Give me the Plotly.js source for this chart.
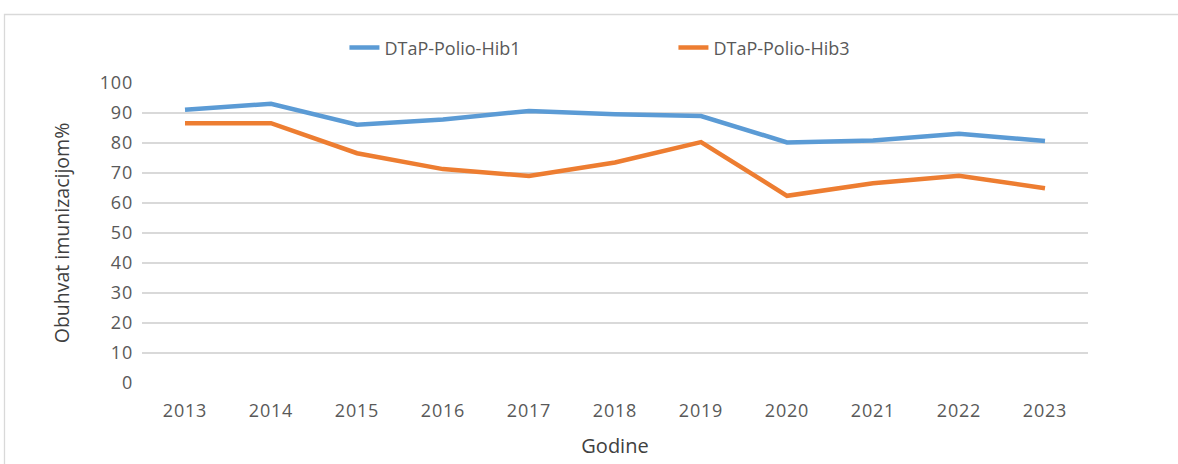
<!DOCTYPE html>
<html>
<head>
<meta charset="utf-8">
<script src="https://cdn.plot.ly/plotly-3.0.1.min.js"></script>
<style>
  html, body { margin: 0; padding: 0; background: #fff; }
  #chart { width: 1178px; height: 464px; }
  #chart .xtick text, #chart .ytick text { letter-spacing: 0.8px; }
</style>
</head>
<body>
<div id="chart"></div>
<script>
const years = ['2013','2014','2015','2016','2017','2018','2019','2020','2021','2022','2023'];
const hib1 = [91.1, 93.1, 86.1, 87.8, 90.7, 89.6, 89.0, 80.2, 80.8, 83.1, 80.7];
const hib3 = [86.6, 86.6, 76.6, 71.3, 69.0, 73.5, 80.3, 62.4, 66.6, 69.1, 64.9];
const seriesNames = ['DTaP-Polio-Hib1', 'DTaP-Polio-Hib3'];
const yTicks = [0, 10, 20, 30, 40, 50, 60, 70, 80, 90, 100];

const font = 'Open Sans, Liberation Sans, sans-serif';
const traces = [
  { x: years, y: hib1, name: seriesNames[0], type: 'scatter', mode: 'lines',
    line: { color: '#5B9BD5', width: 4.5 } },
  { x: years, y: hib3, name: seriesNames[1], type: 'scatter', mode: 'lines',
    line: { color: '#ED7D31', width: 4.5 } }
];

const layout = {
  width: 1178, height: 464,
  margin: { l: 142, r: 90, t: 83, b: 81 },
  paper_bgcolor: '#ffffff', plot_bgcolor: '#ffffff',
  font: { family: font, color: '#595959', size: 16 },
  showlegend: true,
  legend: {
    orientation: 'h', x: 0.214, y: 1.117, xanchor: 'left', yanchor: 'middle',
    entrywidth: 284, entrywidthmode: 'pixels', bgcolor: 'rgba(0,0,0,0)',
    font: { size: 18, color: '#595959', family: font }
  },
  xaxis: {
    type: 'category', range: [-0.5, 10.5],
    showgrid: false, zeroline: false, showline: false, ticks: '',
    tickfont: { size: 18, color: '#595959' },
    ticklabelstandoff: 15,
    title: { text: 'Godine', font: { size: 20, color: '#404040' }, standoff: 17 }
  },
  yaxis: {
    range: [0, 100], tickvals: yTicks, ticktext: yTicks.map(String),
    showgrid: true, gridcolor: '#D9D9D9', gridwidth: 1.3,
    zeroline: false, showline: false, ticks: '',
    tickfont: { size: 18, color: '#595959' },
    ticklabelstandoff: 8,
    title: { text: 'Obuhvat imunizacijom%', font: { size: 19.5, color: '#404040' }, standoff: 27 }
  },
  shapes: [{
    type: 'rect', xref: 'paper', yref: 'paper',
    x0: (4.5 - 142) / 946, x1: 1.5, y0: -0.5, y1: (383 - 14.5) / 300,
    line: { color: '#D9D9D9', width: 1.3 }, fillcolor: 'rgba(0,0,0,0)', layer: 'below'
  }]
};

Plotly.newPlot('chart', traces, layout, { displayModeBar: false, staticPlot: true });
</script>
</body>
</html>
